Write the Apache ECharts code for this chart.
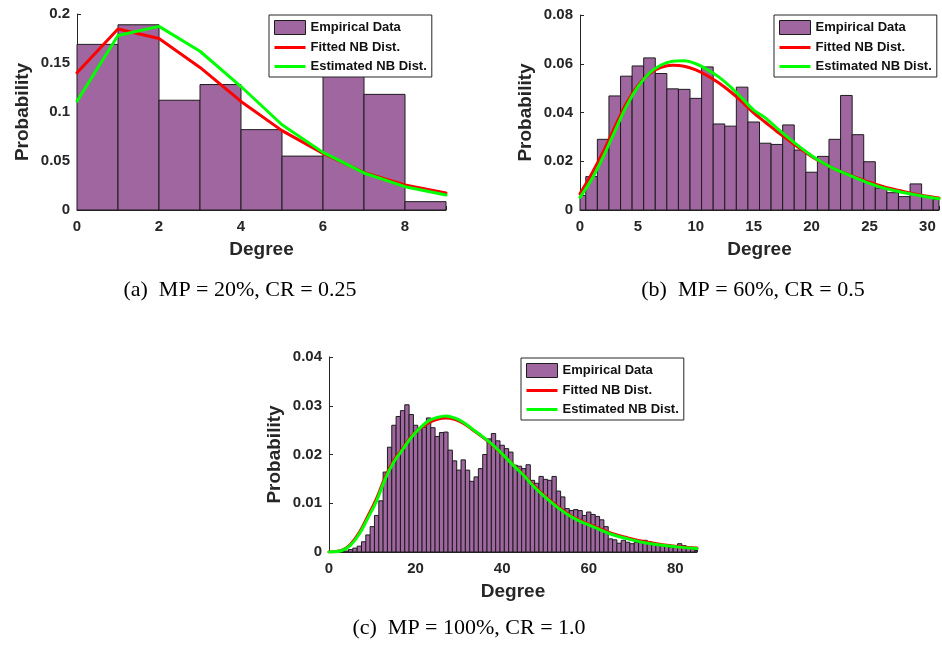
<!DOCTYPE html>
<html>
<head>
<meta charset="utf-8">
<script src="https://cdn.jsdelivr.net/npm/echarts@6/dist/echarts.min.js"></script>
<style>
  html, body { margin: 0; padding: 0; background: #fff; }
  #chart { width: 942px; height: 647px; }
</style>
</head>
<body>
<div id="chart"></div>
<script>
// ---- Panel (a): MP = 20%, CR = 0.25 ----
const aBinLeft = [0, 1, 2, 3, 4, 5, 6, 7, 8];
const aProb = [0.169, 0.189, 0.112, 0.128, 0.082, 0.055, 0.139, 0.118, 0.0085];
const aDegree = [0, 1, 2, 3, 4, 5, 6, 7, 8, 9];
const aFitted = [0.140, 0.1847, 0.175, 0.1455, 0.1108, 0.081, 0.0578, 0.0384, 0.0255, 0.0173];
const aEstimated = [0.111, 0.178, 0.1874, 0.162, 0.126, 0.087, 0.0588, 0.0378, 0.0238, 0.0153];

// ---- Panel (b): MP = 60%, CR = 0.5 (bins centred on each degree) ----
const bDegree = [0, 1, 2, 3, 4, 5, 6, 7, 8, 9, 10, 11, 12, 13, 14, 15,
                 16, 17, 18, 19, 20, 21, 22, 23, 24, 25, 26, 27, 28, 29, 30, 31];
const bProb = [0.0060, 0.0137, 0.0290, 0.0468, 0.0549, 0.0591, 0.0624, 0.0560,
               0.0497, 0.0495, 0.0458, 0.0587, 0.0353, 0.0344, 0.0504, 0.0361,
               0.0274, 0.0269, 0.0349, 0.0246, 0.0155, 0.0220, 0.0290, 0.0470,
               0.0309, 0.0198, 0.0090, 0.0071, 0.0055, 0.0107, 0.0055, 0.0043];
const bFitted = [0.0067, 0.0148, 0.0238, 0.0340, 0.0437, 0.0510, 0.0560, 0.0585,
                 0.0594, 0.0590, 0.0575, 0.0551, 0.0521, 0.0485, 0.0444, 0.0398,
                 0.0360, 0.0322, 0.0287, 0.0252, 0.0220, 0.0192, 0.0168, 0.0149,
                 0.0131, 0.0114, 0.0099, 0.0086, 0.0075, 0.0065, 0.0056, 0.0049];
const bEstimated = [0.0052, 0.0125, 0.0218, 0.0322, 0.0425, 0.0505, 0.0562, 0.0595,
                    0.0610, 0.0612, 0.0600, 0.0576, 0.0545, 0.0505, 0.0458, 0.0410,
                    0.0378, 0.0336, 0.0296, 0.0258, 0.0223, 0.0193, 0.0168, 0.0148,
                    0.0128, 0.0109, 0.0093, 0.0081, 0.0071, 0.0062, 0.0053, 0.0046];

// ---- Panel (c): MP = 100%, CR = 1.0 (bins centred on degrees 0..85) ----
const cProb = [0, 0, 0, 0.0001, 0.0002, 0.0005, 0.0008, 0.0012, 0.0021, 0.0035,
               0.0052, 0.0075, 0.0105, 0.0164, 0.0215, 0.0260, 0.0278, 0.0290, 0.0302, 0.0282,
               0.0260, 0.0253, 0.0256, 0.0275, 0.0255, 0.0237, 0.0245, 0.0246, 0.0209, 0.0187,
               0.0168, 0.0189, 0.0168, 0.0145, 0.0154, 0.0171, 0.0200, 0.0232, 0.0243, 0.0228,
               0.0219, 0.0212, 0.0205, 0.0178, 0.0176, 0.0171, 0.0179, 0.0147, 0.0141, 0.0155,
               0.0149, 0.0147, 0.0155, 0.0125, 0.0113, 0.0089, 0.0085, 0.0087, 0.0085, 0.0075,
               0.0082, 0.0077, 0.0073, 0.0066, 0.0052, 0.0027, 0.0025, 0.0018, 0.0024, 0.0020,
               0.0017, 0.0020, 0.0022, 0.0024, 0.0021, 0.0018, 0.0016, 0.0014, 0.0012, 0.0010,
               0.0011, 0.0017, 0.0013, 0.0009, 0.0006, 0.0003];
const cDegree = cProb.map((_, i) => i);
const cCurveDegree = [0, 3, 5, 7, 9, 11, 13, 15, 17, 19, 21, 23, 25, 27, 29, 31, 33, 35,
                      37, 39, 41, 43, 45, 47, 50, 53, 56, 59, 62, 65, 69, 73, 77, 81, 85];
const cFitted = [0.0000, 0.0004, 0.0016, 0.0040, 0.0074, 0.0110, 0.0154, 0.0188, 0.0212,
                 0.0237, 0.0253, 0.0265, 0.0272, 0.0275, 0.0272, 0.0264, 0.0252, 0.0239,
                 0.0225, 0.0209, 0.0192, 0.0175, 0.0158, 0.0139, 0.0114, 0.0092, 0.0074,
                 0.0061, 0.0050, 0.0039, 0.0029, 0.0021, 0.0015, 0.0011, 0.0008];
const cEstimated = [0.0000, 0.0003, 0.0014, 0.0037, 0.0070, 0.0105, 0.0150, 0.0185, 0.0210,
                    0.0235, 0.0254, 0.0269, 0.0276, 0.0279, 0.0275, 0.0266, 0.0253, 0.0240,
                    0.0226, 0.0210, 0.0192, 0.0174, 0.0157, 0.0137, 0.0112, 0.0090, 0.0072,
                    0.0059, 0.0048, 0.0037, 0.0027, 0.0019, 0.0014, 0.0010, 0.0007];

const captions = ['(a)  MP = 20%, CR = 0.25', '(b)  MP = 60%, CR = 0.5', '(c)  MP = 100%, CR = 1.0'];
const seriesNames = ['Empirical Data', 'Fitted NB Dist.', 'Estimated NB Dist.'];

// ---- styling ----
const SANS = '"Liberation Sans", Arial, Helvetica, sans-serif';
const SERIF = '"Liberation Serif", "Times New Roman", serif';
const AXIS = '#262626';
const BAR_FILL = '#9F66A0';
const BAR_EDGE = '#1c1c1c';
const RED = '#FF0000';
const GREEN = '#00FF00';
// thin horizontal bar used as the legend key for line series
const LINE_KEY = 'path://M0,0H31V3H0Z';

const chart = echarts.init(document.getElementById('chart'), null, { renderer: 'canvas' });

function histSeries(idx, bins, lineW) {
  return {
    type: 'custom',
    name: seriesNames[0],
    xAxisIndex: idx,
    yAxisIndex: idx,
    itemStyle: { color: BAR_FILL, borderColor: BAR_EDGE },
    data: bins,
    z: 1,
    renderItem(params, api) {
      const x0 = api.value(0), x1 = api.value(1), h = api.value(2);
      if (!(h > 0)) return null;
      const p0 = api.coord([x0, 0]);
      const p1 = api.coord([x1, h]);
      const rect = { x: p0[0], y: p1[1], width: p1[0] - p0[0], height: p0[1] - p1[1] };
      const cs = params.coordSys;
      const clipped = echarts.graphic.clipRectByRect(rect, { x: cs.x, y: cs.y, width: cs.width, height: cs.height });
      if (!clipped) return null;
      return {
        type: 'rect',
        shape: clipped,
        style: { fill: BAR_FILL, stroke: BAR_EDGE, lineWidth: lineW }
      };
    }
  };
}

function lineSeries(idx, name, xs, ys, color, width, smooth) {
  return {
    type: 'line',
    name,
    xAxisIndex: idx,
    yAxisIndex: idx,
    data: xs.map((x, i) => [x, ys[i]]),
    symbol: 'none',
    showSymbol: false,
    smooth: smooth,
    clip: true,
    z: name === seriesNames[2] ? 4 : 3,
    lineStyle: { color, width, cap: 'round', join: 'round' },
    itemStyle: { color }
  };
}

function xAxisCfg(idx, max, interval) {
  return {
    type: 'value', gridIndex: idx, min: 0, max, interval,
    name: 'Degree', nameLocation: 'middle', nameGap: 30,
    nameTextStyle: { fontFamily: SANS, fontWeight: 'bold', fontSize: 19, color: AXIS },
    axisLine: { show: true, lineStyle: { color: AXIS, width: 1 } },
    axisTick: { show: true, inside: true, length: 4, lineStyle: { color: AXIS } },
    axisLabel: {
      fontFamily: SANS, fontWeight: 'bold', fontSize: 15, color: AXIS, margin: 9,
      formatter: v => (Math.abs(v / interval - Math.round(v / interval)) < 1e-9 ? String(v) : '')
    },
    splitLine: { show: false }
  };
}

function yAxisCfg(idx, max, interval) {
  return {
    type: 'value', gridIndex: idx, min: 0, max, interval,
    name: 'Probability', nameLocation: 'middle', nameRotate: 90, nameGap: 45,
    nameTextStyle: { fontFamily: SANS, fontWeight: 'bold', fontSize: 19, color: AXIS },
    axisLine: { show: true, lineStyle: { color: AXIS, width: 1 } },
    axisTick: { show: true, inside: true, length: 4, lineStyle: { color: AXIS } },
    axisLabel: { fontFamily: SANS, fontWeight: 'bold', fontSize: 15, color: AXIS, margin: 7 },
    splitLine: { show: false }
  };
}

function legendCfg(left, top) {
  return {
    left, top,
    orient: 'vertical',
    selectedMode: false,
    backgroundColor: '#fff',
    borderColor: AXIS,
    borderWidth: 1,
    padding: [5, 5, 4, 5],
    itemGap: 6,
    itemWidth: 31,
    itemHeight: 14,
    symbolKeepAspect: true,
    textStyle: { fontFamily: SANS, fontWeight: 'bold', fontSize: 13, color: '#111' },
    data: [
      { name: seriesNames[0], icon: 'rect', itemStyle: { color: BAR_FILL, borderColor: BAR_EDGE, borderWidth: 1 } },
      { name: seriesNames[1], icon: LINE_KEY, itemStyle: { color: RED, borderWidth: 0 } },
      { name: seriesNames[2], icon: LINE_KEY, itemStyle: { color: GREEN, borderWidth: 0 } }
    ],
    z: 10
  };
}

const aBins = aBinLeft.map((x, i) => [x, x + 1, aProb[i]]);
const bBins = bDegree.map((d, i) => [d - 0.5, d + 0.5, bProb[i]]);
const cBins = cDegree.map((d, i) => [d - 0.5, d + 0.5, cProb[i]]);

const option = {
  backgroundColor: '#fff',
  animation: false,
  grid: [
    { left: 77, top: 14, width: 369, height: 196 },
    { left: 580, top: 15, width: 362, height: 195 },
    { left: 329, top: 357, width: 368, height: 195 }
  ],
  xAxis: [xAxisCfg(0, 9, 2), xAxisCfg(1, 31, 5), xAxisCfg(2, 85, 20)],
  yAxis: [yAxisCfg(0, 0.2, 0.05), yAxisCfg(1, 0.08, 0.02), yAxisCfg(2, 0.04, 0.01)],
  legend: [legendCfg(269, 15), legendCfg(774, 15), legendCfg(521, 358)],
  series: [
    histSeries(0, aBins, 1),
    lineSeries(0, seriesNames[1], aDegree, aFitted, RED, 3, false),
    lineSeries(0, seriesNames[2], aDegree, aEstimated, GREEN, 3, false),
    histSeries(1, bBins, 1),
    lineSeries(1, seriesNames[1], bDegree, bFitted, RED, 3, 0.3),
    lineSeries(1, seriesNames[2], bDegree, bEstimated, GREEN, 3, 0.3),
    histSeries(2, cBins, 1),
    lineSeries(2, seriesNames[1], cCurveDegree, cFitted, RED, 3, 0.4),
    lineSeries(2, seriesNames[2], cCurveDegree, cEstimated, GREEN, 3, 0.4)
  ],
  graphic: [
    { type: 'text', x: 240, y: 290, style: { text: captions[0], font: '22px ' + SERIF, fill: '#000', textAlign: 'center', textVerticalAlign: 'middle' } },
    { type: 'text', x: 753, y: 290, style: { text: captions[1], font: '22px ' + SERIF, fill: '#000', textAlign: 'center', textVerticalAlign: 'middle' } },
    { type: 'text', x: 469, y: 628, style: { text: captions[2], font: '22px ' + SERIF, fill: '#000', textAlign: 'center', textVerticalAlign: 'middle' } }
  ]
};

chart.setOption(option);
</script>
</body>
</html>
